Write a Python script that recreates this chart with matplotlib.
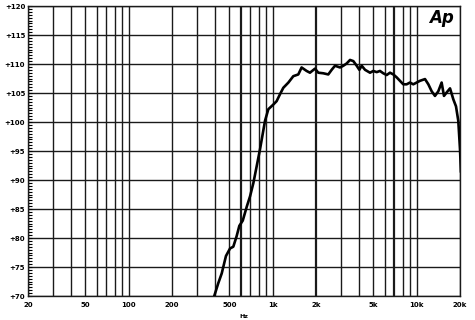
import matplotlib
matplotlib.use("Agg")
import matplotlib.pyplot as plt
import numpy as np

# Frequency response (Hz, dB SPL)
freq_hz = [393, 419, 443, 474, 506, 533, 562, 587, 620, 661, 697, 735, 775, 817,
           840, 885, 933, 1010, 1066, 1125, 1186, 1286, 1391, 1507, 1589, 1722,
           1816, 1968, 2075, 2248, 2434, 2570, 2710, 2937, 3097, 3268, 3446, 3633,
           3834, 4000, 4155, 4380, 4743, 5003, 5275, 5562, 5865, 6192, 6530, 6888,
           7262, 7658, 8075, 8520, 8985, 9476, 10000, 10546, 11428, 12055, 12712,
           13405, 14137, 14910, 15480, 16165, 17050, 17980, 18760, 19460, 20000, 20300]
spl_db = [70.0, 72.2, 73.9, 76.9, 78.2, 78.5, 80.3, 82.1, 83.0, 85.4, 87.2, 89.5, 92.4, 95.3,
          97.0, 100.2, 102.2, 103.0, 103.6, 104.8, 105.9, 106.8, 107.9, 108.2, 109.4, 108.8,
          108.5, 109.2, 108.5, 108.4, 108.2, 109.0, 109.7, 109.4, 109.7, 110.1, 110.7, 110.5,
          109.7, 109.0, 109.7, 109.0, 108.5, 108.8, 108.6, 108.8, 108.4, 108.1, 108.5, 108.2,
          107.7, 107.1, 106.5, 106.5, 106.8, 106.5, 106.8, 107.1, 107.4, 106.5, 105.3,
          104.5, 105.3, 106.8, 104.5, 105.1, 105.8, 103.9, 102.7, 100.2, 95.3, 91.5]

x_ticks = [20, 50, 100, 200, 500, 1000, 2000, 5000, 10000, 20000]
x_tick_labels = ["20", "50", "100", "200", "500", "1k", "2k", "5k", "10k", "20k"]
y_ticks = [70, 75, 80, 85, 90, 95, 100, 105, 110, 115, 120]
y_tick_labels = ["+70", "+75", "+80", "+85", "+90", "+95", "+100", "+105", "+110", "+115", "+120"]

fig = plt.figure(figsize=(4.75, 3.2), dpi=100)
fig.patch.set_facecolor("white")
ax = fig.add_axes([28/475, 1-296/320, (460-28)/475, (296-6)/320])
ax.set_xscale("log")
ax.set_xlim(20, 20000)
ax.set_ylim(70, 120)

# grid lines
grid_f = [m * 10**d for d in range(1, 5) for m in range(1, 10)]
grid_f = [f for f in grid_f if 20 <= f <= 20000]
for f in grid_f:
    lw = 1.0
    if f in (600, 2000, 7000):
        lw = 1.6
    ax.axvline(f, color="#1a1a1a", lw=lw, zorder=1)
for y in y_ticks:
    ax.axhline(y, color="#1a1a1a", lw=1.0, zorder=1)

ax.plot(freq_hz, spl_db, color="black", lw=1.9, zorder=3, clip_on=True,
        solid_joinstyle="round")

ax.set_xticks(x_ticks)
ax.set_xticklabels(x_tick_labels, fontsize=5, fontweight="bold")
ax.xaxis.set_minor_locator(matplotlib.ticker.NullLocator())
ax.set_yticks(y_ticks)
ax.set_yticklabels(y_tick_labels, fontsize=5, fontweight="bold")
ax.set_yticks(np.arange(70, 120.01, 0.5), minor=True)
ax.tick_params(axis="x", which="both", length=0, pad=4)
ax.tick_params(axis="y", which="major", direction="in", length=3, width=0.8, pad=2)
ax.tick_params(axis="y", which="minor", direction="in", length=3, width=0.8)
ax.set_xlabel("Hz", fontsize=4.5, fontweight="bold", labelpad=5)

for s in ax.spines.values():
    s.set_linewidth(1.0)
    s.set_color("#1a1a1a")

ax.text(0.985, 0.99, "Ap", transform=ax.transAxes, ha="right", va="top",
        fontsize=12, fontweight="bold", fontstyle="italic", color="black",
        zorder=5, bbox=dict(facecolor="white", edgecolor="none", pad=0.5))

fig.savefig("out.png", dpi=100, facecolor="white")
